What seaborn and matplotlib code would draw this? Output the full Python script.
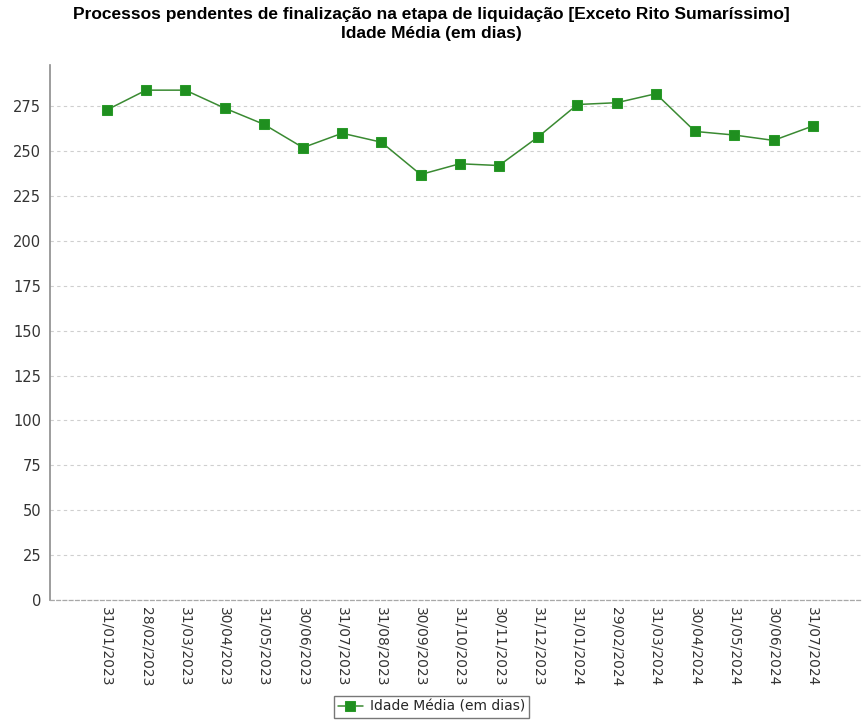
import pandas as pd
import matplotlib.pyplot as plt
import seaborn as sns

datas = ["31/01/2023", "28/02/2023", "31/03/2023", "30/04/2023", "31/05/2023",
         "30/06/2023", "31/07/2023", "31/08/2023", "30/09/2023", "31/10/2023",
         "30/11/2023", "31/12/2023", "31/01/2024", "29/02/2024", "31/03/2024",
         "30/04/2024", "31/05/2024", "30/06/2024", "31/07/2024"]
idade_media = [273, 284, 284, 274, 265, 252, 260, 255, 237, 243,
               242, 258, 276, 277, 282, 261, 259, 256, 264]
y_ticks = list(range(0, 276, 25))

TITULO = ("Processos pendentes de finalização na etapa de liquidação [Exceto Rito Sumaríssimo]\n"
          "Idade Média (em dias)")
SERIE = "Idade Média (em dias)"


def main():
    df = pd.DataFrame({"data": datas, "valor": idade_media})

    sns.set_style("white")
    plt.rcParams["font.family"] = ["DejaVu Sans"]
    plt.rcParams["font.sans-serif"] = ["DejaVu Sans"]

    fig = plt.figure(figsize=(8.63, 7.2), dpi=100)
    ax = fig.add_axes([0.058, 0.1667, 0.941, 0.743])

    sns.lineplot(data=df, x="data", y="valor", ax=ax, sort=False,
                 color="#3a8a32", linewidth=1.1, marker="s", markersize=7.5,
                 markerfacecolor="#1f8f1f", markeredgecolor="#2a9a2a",
                 label=SERIE)

    ax.set_xlim(-1.45, 19.26)
    ax.set_ylim(0, 298)
    ax.set_yticks(y_ticks)
    ax.yaxis.grid(True, linestyle=(0, (3, 3)), color="#cfcfcf", linewidth=0.8)
    ax.xaxis.grid(False)
    ax.set_axisbelow(True)

    for s in ["top", "right"]:
        ax.spines[s].set_visible(False)
    ax.spines["left"].set_color("#8c8c8c")
    ax.spines["left"].set_linewidth(1.2)
    ax.spines["bottom"].set_color("#a8a8a8")
    ax.spines["bottom"].set_linewidth(0.9)
    ax.spines["bottom"].set_linestyle((0, (3, 2)))

    ax.tick_params(axis="y", length=3, color="#8c8c8c", labelsize=10.5, colors="#333333")
    ax.tick_params(axis="x", length=3, color="#8c8c8c", labelsize=10, colors="#333333",
                   rotation=270, pad=2, direction="out")
    ax.set_xlabel("")
    ax.set_ylabel("")

    fig.suptitle(TITULO, fontsize=12.5, fontweight="bold", family="Liberation Sans",
                 color="black", y=0.99, linespacing=1.3)

    handles, labels = ax.get_legend_handles_labels()
    ax.legend(handles, labels, loc="lower center", bbox_to_anchor=(0.5, 0.0),
              bbox_transform=fig.transFigure, fontsize=10, frameon=True,
              fancybox=False, edgecolor="#555555", handlelength=1.8,
              borderpad=0.3, handletextpad=0.5, borderaxespad=0.15)

    fig.savefig("out.png", dpi=100)


if __name__ == "__main__":
    main()
